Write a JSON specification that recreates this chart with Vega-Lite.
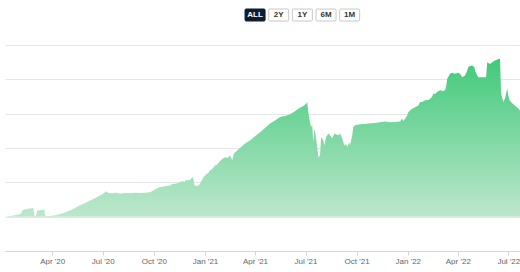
{
  "$schema": "https://vega.github.io/schema/vega-lite/v6.json",
  "padding": {"top": 8, "left": 5, "right": 0, "bottom": 0},
  "spacing": 23,
  "config": {"view": {"stroke": null}, "font": "Liberation Sans"},
  "datasets": {
    "buttons": [{"label": "ALL", "order": 0}, {"label": "2Y", "order": 1}, {"label": "1Y", "order": 2}, {"label": "6M", "order": 3}, {"label": "1M", "order": 4}],
    "series": [
      {"date":"2020/01/07","value":0},{"date":"2020/01/13","value":1},{"date":"2020/01/20","value":3},{"date":"2020/01/27","value":5},
      {"date":"2020/02/03","value":8},{"date":"2020/02/05","value":9},{"date":"2020/02/07","value":18},{"date":"2020/02/11","value":21},
      {"date":"2020/02/16","value":22},{"date":"2020/02/21","value":24},{"date":"2020/02/27","value":25},{"date":"2020/02/29","value":2},
      {"date":"2020/03/03","value":3},{"date":"2020/03/05","value":18},{"date":"2020/03/10","value":19},{"date":"2020/03/18","value":21},
      {"date":"2020/03/19","value":1},{"date":"2020/03/25","value":2},{"date":"2020/04/01","value":3},{"date":"2020/04/08","value":5},
      {"date":"2020/04/15","value":8},{"date":"2020/04/24","value":12},{"date":"2020/05/03","value":18},{"date":"2020/05/12","value":25},
      {"date":"2020/05/21","value":33},{"date":"2020/05/30","value":40},{"date":"2020/06/08","value":47},{"date":"2020/06/17","value":54},
      {"date":"2020/06/26","value":62},{"date":"2020/07/04","value":70},{"date":"2020/07/07","value":74},{"date":"2020/07/11","value":69},
      {"date":"2020/07/18","value":68},{"date":"2020/07/25","value":70},{"date":"2020/08/01","value":67},{"date":"2020/08/10","value":69},
      {"date":"2020/08/19","value":68},{"date":"2020/08/28","value":70},{"date":"2020/09/06","value":69},{"date":"2020/09/15","value":70},
      {"date":"2020/09/24","value":71},{"date":"2020/09/30","value":76},{"date":"2020/10/03","value":79},{"date":"2020/10/09","value":84},
      {"date":"2020/10/12","value":86},{"date":"2020/10/18","value":88},{"date":"2020/10/23","value":89},{"date":"2020/10/30","value":91},
      {"date":"2020/11/03","value":95},{"date":"2020/11/08","value":96},{"date":"2020/11/14","value":98},{"date":"2020/11/17","value":100},
      {"date":"2020/11/21","value":104},{"date":"2020/11/25","value":101},{"date":"2020/11/26","value":105},{"date":"2020/12/02","value":107},
      {"date":"2020/12/05","value":107},{"date":"2020/12/09","value":115},{"date":"2020/12/11","value":111},{"date":"2020/12/13","value":91},
      {"date":"2020/12/16","value":89},{"date":"2020/12/20","value":91},{"date":"2020/12/23","value":96},{"date":"2020/12/29","value":114},
      {"date":"2021/01/03","value":123},{"date":"2021/01/07","value":127},{"date":"2021/01/10","value":135},{"date":"2021/01/14","value":139},
      {"date":"2021/01/19","value":149},{"date":"2021/01/23","value":152},{"date":"2021/01/28","value":162},{"date":"2021/02/01","value":168},
      {"date":"2021/02/06","value":173},{"date":"2021/02/10","value":171},{"date":"2021/02/15","value":178},{"date":"2021/02/19","value":165},
      {"date":"2021/02/22","value":184},{"date":"2021/02/28","value":193},{"date":"2021/03/05","value":200},{"date":"2021/03/11","value":209},
      {"date":"2021/03/14","value":213},{"date":"2021/03/20","value":219},{"date":"2021/03/23","value":222},{"date":"2021/04/01","value":234},
      {"date":"2021/04/10","value":246},{"date":"2021/04/19","value":258},{"date":"2021/04/28","value":271},{"date":"2021/05/07","value":280},
      {"date":"2021/05/16","value":290},{"date":"2021/05/25","value":293},{"date":"2021/06/03","value":298},{"date":"2021/06/12","value":307},
      {"date":"2021/06/18","value":314},{"date":"2021/06/21","value":317},{"date":"2021/06/27","value":322},{"date":"2021/07/02","value":329},
      {"date":"2021/07/04","value":334},{"date":"2021/07/06","value":304},{"date":"2021/07/09","value":275},{"date":"2021/07/11","value":261},
      {"date":"2021/07/13","value":266},{"date":"2021/07/15","value":217},{"date":"2021/07/17","value":257},{"date":"2021/07/20","value":228},
      {"date":"2021/07/22","value":203},{"date":"2021/07/24","value":173},{"date":"2021/07/27","value":178},{"date":"2021/07/29","value":232},
      {"date":"2021/08/02","value":222},{"date":"2021/08/04","value":207},{"date":"2021/08/07","value":232},{"date":"2021/08/11","value":242},
      {"date":"2021/08/14","value":237},{"date":"2021/08/18","value":228},{"date":"2021/08/22","value":242},{"date":"2021/08/25","value":239},
      {"date":"2021/08/29","value":237},{"date":"2021/09/01","value":242},{"date":"2021/09/05","value":228},{"date":"2021/09/09","value":207},
      {"date":"2021/09/12","value":212},{"date":"2021/09/14","value":203},{"date":"2021/09/18","value":217},{"date":"2021/09/19","value":207},
      {"date":"2021/09/23","value":237},{"date":"2021/09/25","value":261},{"date":"2021/09/28","value":266},{"date":"2021/10/07","value":269},
      {"date":"2021/10/16","value":270},{"date":"2021/10/25","value":272},{"date":"2021/11/03","value":273},{"date":"2021/11/12","value":275},
      {"date":"2021/11/21","value":277},{"date":"2021/11/30","value":275},{"date":"2021/12/09","value":276},{"date":"2021/12/18","value":277},
      {"date":"2021/12/22","value":286},{"date":"2021/12/24","value":279},{"date":"2021/12/27","value":285},{"date":"2021/12/31","value":295},
      {"date":"2022/01/02","value":304},{"date":"2022/01/05","value":309},{"date":"2022/01/09","value":314},{"date":"2022/01/14","value":319},
      {"date":"2022/01/20","value":324},{"date":"2022/01/23","value":334},{"date":"2022/01/27","value":334},{"date":"2022/02/01","value":339},
      {"date":"2022/02/07","value":340},{"date":"2022/02/10","value":343},{"date":"2022/02/14","value":350},{"date":"2022/02/16","value":359},
      {"date":"2022/02/19","value":357},{"date":"2022/02/23","value":363},{"date":"2022/02/28","value":368},{"date":"2022/03/06","value":366},
      {"date":"2022/03/09","value":368},{"date":"2022/03/11","value":379},{"date":"2022/03/13","value":402},{"date":"2022/03/18","value":416},
      {"date":"2022/03/22","value":419},{"date":"2022/03/27","value":416},{"date":"2022/04/02","value":419},{"date":"2022/04/05","value":416},
      {"date":"2022/04/09","value":406},{"date":"2022/04/14","value":411},{"date":"2022/04/18","value":426},{"date":"2022/04/20","value":436},
      {"date":"2022/04/23","value":439},{"date":"2022/04/27","value":440},{"date":"2022/05/01","value":435},{"date":"2022/05/02","value":426},
      {"date":"2022/05/06","value":411},{"date":"2022/05/08","value":406},{"date":"2022/05/15","value":406},{"date":"2022/05/22","value":406},
      {"date":"2022/05/24","value":450},{"date":"2022/05/29","value":445},{"date":"2022/06/04","value":452},{"date":"2022/06/07","value":455},
      {"date":"2022/06/11","value":458},{"date":"2022/06/15","value":460},{"date":"2022/06/16","value":460},{"date":"2022/06/18","value":358},
      {"date":"2022/06/22","value":334},{"date":"2022/06/25","value":344},{"date":"2022/06/29","value":373},{"date":"2022/07/01","value":353},
      {"date":"2022/07/03","value":339},{"date":"2022/07/08","value":330},{"date":"2022/07/13","value":324},{"date":"2022/07/19","value":315},
      {"date":"2022/07/22","value":309}
    ]
  },
  "vconcat": [
    {
      "width": 515,
      "height": 12,
      "data": {"name": "buttons"},
      "encoding": {
        "x": {
          "field": "order",
          "type": "quantitative",
          "axis": null,
          "scale": {"domain": [-10.57, 11.2], "nice": false, "zero": false}
        }
      },
      "layer": [
        {
          "mark": {"type": "rect", "width": 20, "strokeWidth": 1, "cornerRadius": 1},
          "encoding": {
            "fill": {"condition": {"test": "datum.label === 'ALL'", "value": "#0e1c33"}, "value": "#ffffff"},
            "stroke": {"condition": {"test": "datum.label === 'ALL'", "value": "#0e1c33"}, "value": "#c8c8c8"}
          }
        },
        {
          "mark": {"type": "text", "fontSize": 8, "fontWeight": "bold", "baseline": "middle", "align": "center"},
          "encoding": {
            "text": {"field": "label"},
            "color": {"condition": {"test": "datum.label === 'ALL'", "value": "#ffffff"}, "value": "#333333"}
          }
        }
      ]
    },
    {
      "width": 515,
      "height": 206,
      "data": {"name": "series"},
      "mark": {
        "type": "area",
        "interpolate": "linear",
        "color": {
          "gradient": "linear",
          "x1": 0, "y1": 0, "x2": 0, "y2": 1,
          "stops": [
            {"offset": 0, "color": "#42c97a"},
            {"offset": 1, "color": "#bde7cd"}
          ]
        }
      },
      "encoding": {
        "x": {
          "field": "date",
          "type": "temporal",
          "title": null,
          "scale": {"domain": [{"year": 2020, "month": 1, "date": 7}, {"year": 2022, "month": 7, "date": 22}]},
          "axis": {
            "format": "%b '%y",
            "tickCount": {"interval": "month", "step": 3},
            "grid": false,
            "domainColor": "#ccd6eb",
            "tickColor": "#ccd6eb",
            "tickSize": 4,
            "labelFontSize": 8,
            "labelColor": "#666666",
            "labelPadding": 2,
            "labelFlush": false
          }
        },
        "y": {
          "field": "value",
          "type": "quantitative",
          "title": null,
          "scale": {"domain": [-100, 500], "nice": false, "zero": false},
          "axis": {
            "values": [-100, 0, 100, 200, 300, 400, 500],
            "labels": false,
            "ticks": false,
            "domain": false,
            "grid": true,
            "gridColor": "#e6e6e6",
            "gridWidth": 1
          }
        }
      }
    }
  ]
}
